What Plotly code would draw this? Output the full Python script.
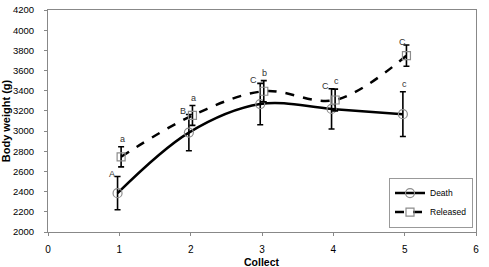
import plotly.graph_objects as go

collect = [1, 2, 3, 4, 5]
death_mean = [2385, 2985, 3268, 3220, 3168]
death_err = [165, 180, 205, 200, 222]
released_mean = [2745, 3155, 3395, 3308, 3748]
released_err = [100, 98, 105, 108, 105]
death_letters = ["A", "B", "C", "C", "c"]
released_letters = ["a", "a", "b", "c", "C"]

off = 0.025
xd = [c - off for c in collect]
xr = [c + off for c in collect]

fig = go.Figure()
fig.add_trace(go.Scatter(
    x=xd, y=death_mean, name="Death", mode="lines+markers",
    line=dict(color="black", width=2.5, shape="spline", smoothing=1),
    marker=dict(symbol="circle-open", size=9, color="#8c8c8c", line=dict(width=1.2)),
    error_y=dict(type="data", array=death_err, visible=True, color="black", thickness=1.6, width=3),
))
fig.add_trace(go.Scatter(
    x=xr, y=released_mean, name="Released", mode="lines+markers",
    line=dict(color="black", width=2.5, dash="dash", shape="spline", smoothing=1),
    marker=dict(symbol="square-open", size=8, color="#8c8c8c", line=dict(width=1.2)),
    error_y=dict(type="data", array=released_err, visible=True, color="black", thickness=1.6, width=3),
))

ann = []
for i in range(len(collect)):
    top_d = death_mean[i] + death_err[i]
    top_r = released_mean[i] + released_err[i]
    if i < 4:
        ann.append(dict(x=xd[i], y=top_d, text=death_letters[i], xref="x", yref="y",
                        xanchor="right", yanchor="bottom", xshift=-1, yshift=-4, showarrow=False))
    else:
        ann.append(dict(x=xd[i], y=top_d, text=death_letters[i], xref="x", yref="y",
                        xanchor="center", yanchor="bottom", xshift=2, yshift=1, showarrow=False))
    if i < 4:
        ann.append(dict(x=xr[i], y=top_r, text=released_letters[i], xref="x", yref="y",
                        xanchor="center", yanchor="bottom", xshift=1, yshift=1, showarrow=False))
    else:
        ann.append(dict(x=xr[i], y=top_r, text=released_letters[i], xref="x", yref="y",
                        xanchor="center", yanchor="bottom", xshift=-4, yshift=-4, showarrow=False))
for a in ann:
    a["font"] = dict(family="Liberation Sans, Arial", size=9, color="#333333")

ann.append(dict(x=0.5, y=0, xref="paper", yref="paper", text="<b>Collect</b>",
                xanchor="center", yanchor="top", yshift=-22, showarrow=False,
                font=dict(family="Liberation Sans, Arial", size=10.5, color="black")))

fig.update_layout(
    width=489, height=267,
    margin=dict(l=48, r=13, t=10, b=35, autoexpand=False),
    paper_bgcolor="white", plot_bgcolor="white",
    font=dict(family="Liberation Sans, Arial", size=9, color="black"),
    annotations=ann,
    showlegend=True,
    legend=dict(x=0.993, xanchor="right", y=0.02, yanchor="bottom",
                bordercolor="#999", borderwidth=1, bgcolor="white",
                font=dict(size=8.5), tracegroupgap=0, itemwidth=30),
    xaxis=dict(range=[0, 6], tickvals=[0, 1, 2, 3, 4, 5, 6], showgrid=False, zeroline=False,
               showline=True, linecolor="#888", linewidth=1, mirror=True, automargin=False,
               ticks="outside", ticklen=3, tickcolor="#888", ticklabelstandoff=5,
               tickfont=dict(size=10)),
    yaxis=dict(range=[2000, 4200], dtick=200, showgrid=False, zeroline=False,
               showline=True, linecolor="#888", linewidth=1, mirror=True, automargin=False,
               ticks="outside", ticklen=3, tickcolor="#888", ticklabelstandoff=8,
               tickfont=dict(size=9.5),
               title=dict(text="<b>Body weight (g)</b>", font=dict(size=11), standoff=3)),
)

fig.write_html("out.html")
